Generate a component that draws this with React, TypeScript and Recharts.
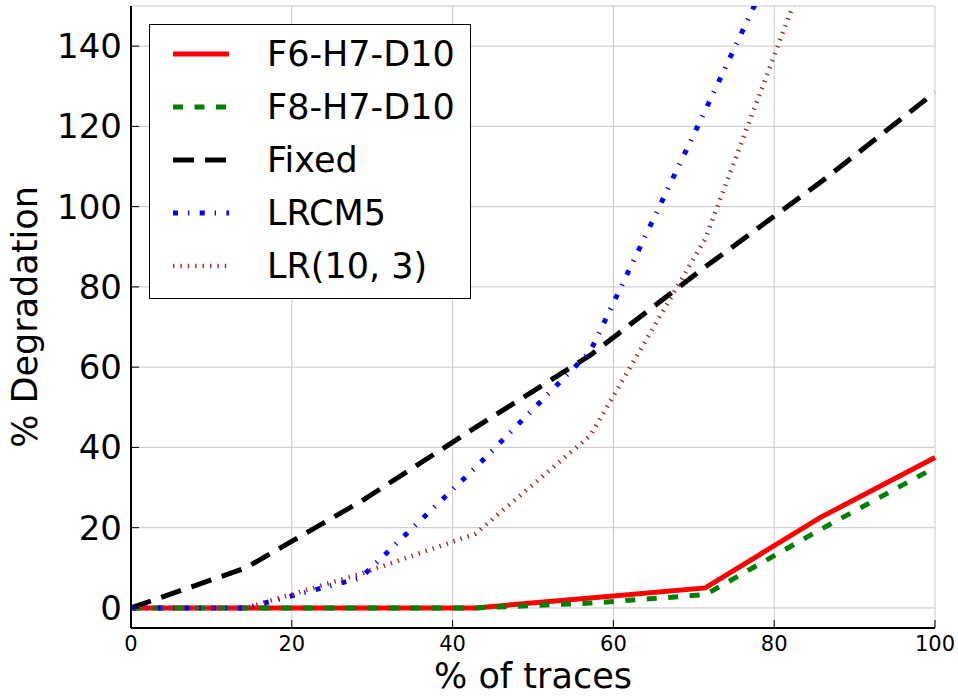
import {
  LineChart,
  Line,
  XAxis,
  YAxis,
  CartesianGrid,
  Label,
} from "recharts";

// % of traces at each measurement step
const traces = [0, 14.29, 28.57, 42.86, 57.14, 71.43, 85.71, 100];

// % degradation per policy
const f6h7d10 = [0, 0, 0, 0, 2.5, 5, 22.5, 37.5];
const f8h7d10 = [0, 0, 0, 0, 1.2, 3.3, 19.5, 35];
const fixed = [0, 10, 26.5, 45, 63, 85, 106, 128.5];
const lrcm5 = [0, 0, 7.5, 35, 64, 124, 185, 245];
const lr103 = [0, 0, 8.5, 18.5, 43, 92, 168, 240];

const xTicks = [0, 20, 40, 60, 80, 100];
const yTicks = [0, 20, 40, 60, 80, 100, 120, 140];

const series = [
  { key: "f6", name: "F6-H7-D10", color: "#ff0000", width: 5, dash: undefined, values: f6h7d10 },
  { key: "f8", name: "F8-H7-D10", color: "#008000", width: 5, dash: "10 11.5", values: f8h7d10 },
  { key: "fixed", name: "Fixed", color: "#000000", width: 5, dash: "21 11", values: fixed },
  { key: "lrcm5", name: "LRCM5", color: "#0000ff", width: 5, dash: "5 10 1.3 10.4", values: lrcm5 },
  { key: "lr103", name: "LR(10, 3)", color: "#a52a2a", width: 4.5, dash: "1.4 6", values: lr103 },
];

const rows = traces.map((x, i) => {
  const row: Record<string, number> = { x };
  series.forEach((s) => (row[s.key] = s.values[i]));
  return row;
});

const FONT = "'DejaVu Sans', sans-serif";

function LegendBox() {
  return (
    <div
      style={{
        position: "absolute",
        left: 149,
        top: 24,
        width: 320,
        height: 273,
        border: "1.5px solid #000",
        background: "#fff",
        fontFamily: FONT,
      }}
    >
      {series.map((s, i) => (
        <div
          key={s.key}
          style={{
            position: "absolute",
            left: 0,
            top: 29 + i * 53 - 22,
            height: 44,
            display: "flex",
            alignItems: "center",
          }}
        >
          <svg width={80} height={44} style={{ marginLeft: 22 }}>
            <line
              x1={1}
              x2={57}
              y1={22}
              y2={22}
              stroke={s.color}
              strokeWidth={s.width}
              strokeDasharray={s.dash}
            />
          </svg>
          <span style={{ fontSize: 35, color: "#000", marginLeft: 15, lineHeight: "44px" }}>
            {s.name}
          </span>
        </div>
      ))}
    </div>
  );
}

export default function App() {
  return (
    <div style={{ position: "absolute", left: 0, top: 0, width: 958, height: 696, background: "#fff" }}>
      <LineChart
        width={958}
        height={696}
        data={rows}
        margin={{ top: 6, right: 23, bottom: 0, left: 0 }}
        style={{ fontFamily: FONT }}
      >
        <CartesianGrid stroke="#c8c8c8" strokeWidth={1} />
        <XAxis
          dataKey="x"
          type="number"
          domain={[0, 100]}
          ticks={xTicks}
          height={68}
          axisLine={{ stroke: "#000", strokeWidth: 2 }}
          tickLine={{ stroke: "#000" }}
          tickSize={-8}
          tickMargin={16}
          tick={{ fill: "#000", fontSize: 21 }}
          interval={0}
        >
          <Label
            value="% of traces"
            position="insideBottom"
            offset={8}
            style={{ fontSize: 35, fill: "#000" }}
          />
        </XAxis>
        <XAxis
          xAxisId="top"
          orientation="top"
          type="number"
          domain={[0, 100]}
          ticks={xTicks}
          height={0}
          axisLine={{ stroke: "#000", strokeWidth: 2 }}
          tickLine={{ stroke: "#000" }}
          tickSize={-8}
          tick={false}
        />
        <YAxis
          type="number"
          domain={[-5, 150]}
          ticks={yTicks}
          allowDataOverflow
          width={131}
          axisLine={{ stroke: "#000", strokeWidth: 2 }}
          tickLine={{ stroke: "#000" }}
          tickSize={-8}
          tickMargin={17}
          tick={{ fill: "#000", fontSize: 34 }}
          interval={0}
        >
          <Label
            value="% Degradation"
            angle={-90}
            position="insideLeft"
            offset={25}
            style={{ fontSize: 35, fill: "#000", textAnchor: "middle" }}
          />
        </YAxis>
        <YAxis
          yAxisId="right"
          orientation="right"
          type="number"
          domain={[-5, 150]}
          ticks={yTicks}
          width={0}
          axisLine={{ stroke: "#000", strokeWidth: 2 }}
          tickLine={{ stroke: "#000" }}
          tickSize={-8}
          tick={false}
        />
        {series.map((s) => (
          <Line
            key={s.key}
            dataKey={s.key}
            name={s.name}
            type="linear"
            stroke={s.color}
            strokeWidth={s.width}
            strokeDasharray={s.dash}
            dot={false}
            activeDot={false}
            isAnimationActive={false}
          />
        ))}
      </LineChart>
      <LegendBox />
    </div>
  );
}
